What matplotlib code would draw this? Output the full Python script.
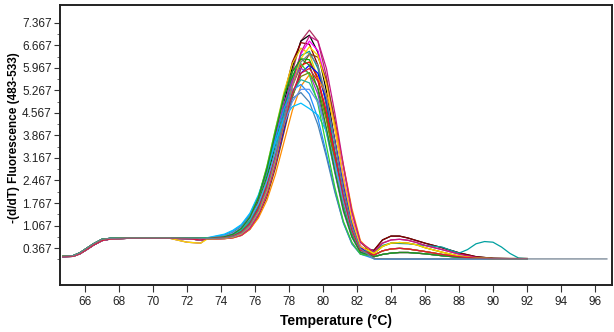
import matplotlib
matplotlib.use("Agg")
import matplotlib.pyplot as plt
import matplotlib.font_manager as fm
from matplotlib.ticker import FixedLocator

# ---------------- data ----------------
low_T = [64.7, 65.3, 65.7, 66.1, 66.5, 67.0, 67.5, 68.5, 70.0, 71.0, 72.0, 72.8]
low_a = [0.12, 0.13, 0.22, 0.36, 0.50, 0.64, 0.67, 0.68, 0.68, 0.68, 0.68, 0.67]
low_b = [0.10, 0.11, 0.19, 0.32, 0.46, 0.60, 0.65, 0.67, 0.67, 0.67, 0.66, 0.62]
low_c = [0.12, 0.12, 0.20, 0.34, 0.48, 0.62, 0.66, 0.67, 0.67, 0.67, 0.55, 0.52]

pk_T = [73.2, 74.2, 74.7, 75.2, 75.7, 76.2, 76.7, 77.2, 77.7, 78.2, 78.7,
        79.2, 79.7, 80.2, 80.7, 81.2, 81.7, 82.2]
c01 = [0.66, 0.68, 0.72, 0.82, 1.05, 1.50, 2.25, 3.30, 4.60, 5.85, 6.80, 7.14, 6.80, 5.70, 4.10, 2.50, 1.20, 0.40]
c02 = [0.66, 0.69, 0.74, 0.86, 1.15, 1.70, 2.50, 3.60, 4.85, 6.00, 6.80, 6.98, 6.45, 5.25, 3.70, 2.20, 1.05, 0.35]
c03 = [0.67, 0.70, 0.76, 0.92, 1.25, 1.85, 2.75, 3.90, 5.10, 6.15, 6.75, 6.70, 6.05, 4.80, 3.30, 1.90, 0.85, 0.25]
c04 = [0.65, 0.67, 0.70, 0.80, 1.05, 1.50, 2.20, 3.20, 4.40, 5.55, 6.40, 6.80, 6.50, 5.55, 4.10, 2.60, 1.30, 0.45]
c05 = [0.67, 0.71, 0.78, 0.96, 1.30, 1.95, 2.90, 4.05, 5.20, 6.10, 6.58, 6.40, 5.65, 4.40, 2.95, 1.65, 0.75, 0.25]
c06 = [0.66, 0.69, 0.74, 0.86, 1.15, 1.65, 2.40, 3.40, 4.55, 5.65, 6.35, 6.48, 5.95, 4.85, 3.40, 2.00, 0.95, 0.30]
c07 = [0.65, 0.66, 0.69, 0.76, 0.95, 1.35, 1.95, 2.85, 3.95, 5.05, 5.95, 6.40, 6.30, 5.60, 4.35, 2.90, 1.50, 0.55]
c08 = [0.67, 0.70, 0.76, 0.92, 1.22, 1.78, 2.60, 3.65, 4.75, 5.70, 6.25, 6.22, 5.60, 4.45, 3.05, 1.75, 0.80, 0.25]
c09 = [0.66, 0.69, 0.74, 0.85, 1.12, 1.60, 2.30, 3.25, 4.35, 5.40, 6.05, 6.15, 5.65, 4.60, 3.25, 1.90, 0.90, 0.30]
c10 = [0.65, 0.67, 0.70, 0.80, 1.05, 1.45, 2.10, 3.00, 4.05, 5.10, 5.80, 6.05, 5.80, 4.95, 3.70, 2.30, 1.10, 0.38]
c11 = [0.68, 0.72, 0.80, 0.99, 1.32, 1.90, 2.75, 3.80, 4.85, 5.60, 5.95, 5.80, 5.15, 4.00, 2.70, 1.50, 0.70, 0.22]
c12 = [0.66, 0.69, 0.74, 0.85, 1.10, 1.55, 2.25, 3.10, 4.15, 5.10, 5.70, 5.82, 5.35, 4.35, 3.10, 1.80, 0.85, 0.28]
c13 = [0.65, 0.66, 0.68, 0.76, 0.95, 1.30, 1.85, 2.65, 3.65, 4.65, 5.40, 5.75, 5.65, 5.15, 4.20, 2.95, 1.60, 0.60]
c14 = [0.68, 0.71, 0.77, 0.93, 1.22, 1.72, 2.45, 3.40, 4.40, 5.20, 5.60, 5.50, 4.95, 3.95, 2.75, 1.60, 0.75, 0.25]
c15 = [0.68, 0.78, 0.90, 1.08, 1.42, 1.98, 2.80, 3.78, 4.70, 5.28, 5.45, 5.15, 4.40, 3.30, 2.15, 1.15, 0.50, 0.18]
c16 = [0.67, 0.75, 0.86, 1.04, 1.38, 1.95, 2.72, 3.62, 4.45, 5.02, 5.20, 4.90, 4.20, 3.20, 2.10, 1.15, 0.50, 0.18]
c17 = [0.69, 0.80, 0.92, 1.10, 1.45, 2.02, 2.80, 3.65, 4.40, 4.76, 4.87, 4.70, 4.50, 4.00, 3.00, 1.90, 0.95, 0.30]
c18 = [0.65, 0.66, 0.69, 0.77, 0.98, 1.40, 2.05, 3.00, 4.20, 5.45, 6.45, 6.95, 6.80, 5.95, 4.55, 2.95, 1.50, 0.55]
c19 = [0.68, 0.72, 0.80, 0.98, 1.32, 1.95, 2.90, 4.05, 5.12, 5.86, 6.10, 5.75, 4.85, 3.55, 2.25, 1.20, 0.55, 0.18]
c20 = [0.68, 0.74, 0.82, 0.98, 1.28, 1.75, 2.45, 3.32, 4.20, 4.92, 5.30, 5.30, 4.90, 4.05, 2.95, 1.80, 0.90, 0.30]
c21 = [0.65, 0.67, 0.71, 0.81, 1.06, 1.48, 2.15, 3.10, 4.25, 5.40, 6.25, 6.62, 6.35, 5.45, 4.05, 2.55, 1.25, 0.42]
c22 = [0.67, 0.72, 0.80, 0.98, 1.32, 1.92, 2.82, 3.95, 5.05, 5.85, 6.25, 6.05, 5.30, 4.10, 2.75, 1.55, 0.72, 0.24]
c23 = [0.66, 0.69, 0.74, 0.86, 1.12, 1.58, 2.28, 3.20, 4.25, 5.20, 5.80, 5.95, 5.55, 4.60, 3.30, 1.95, 0.92, 0.30]
c24 = [0.66, 0.68, 0.72, 0.83, 1.08, 1.52, 2.20, 3.15, 4.30, 5.40, 6.15, 6.40, 6.05, 5.05, 3.65, 2.20, 1.05, 0.35]

tail_T = [83.0, 83.5, 84.0, 84.5, 85.0, 85.5, 86.0, 87.0, 88.0, 89.0, 90.0, 91.0, 92.0]
tail_dark = [0.30, 0.62, 0.74, 0.74, 0.68, 0.60, 0.52, 0.38, 0.22, 0.10, 0.05, 0.04, 0.04]
tail_pink = [0.25, 0.52, 0.62, 0.64, 0.61, 0.54, 0.45, 0.32, 0.18, 0.08, 0.04, 0.04, 0.04]
tail_yell = [0.20, 0.42, 0.52, 0.54, 0.52, 0.47, 0.38, 0.24, 0.12, 0.06, 0.04, 0.04, 0.04]
tail_mid = [0.15, 0.28, 0.34, 0.36, 0.34, 0.30, 0.26, 0.17, 0.10, 0.05, 0.04, 0.04, 0.04]
tail_low = [0.10, 0.17, 0.21, 0.23, 0.23, 0.21, 0.19, 0.13, 0.08, 0.05, 0.04, 0.04, 0.04]
tail_flat = [0.04, 0.03, 0.03, 0.03, 0.03, 0.03, 0.03, 0.03, 0.03, 0.03, 0.03, 0.03, 0.03]
tealT = [83.0, 83.5, 84.0, 85.0, 86.0, 87.0, 87.5, 88.0, 88.5, 89.0, 89.5, 90.0, 90.5, 91.0, 91.5, 92.0]
tealV = [0.25, 0.45, 0.52, 0.50, 0.45, 0.40, 0.30, 0.21, 0.32, 0.50, 0.57, 0.55, 0.40, 0.20, 0.06, 0.04]
longT = [83.0, 84.0, 86.0, 88.0, 90.0, 92.0, 96.7]
longV = [0.04, 0.03, 0.03, 0.03, 0.03, 0.03, 0.03]

peaks = [c01, c02, c03, c04, c05, c06, c07, c08, c09, c10, c11, c12,
         c13, c14, c15, c16, c17, c18, c19, c20, c21, c22, c23, c24]
colors = ['#b03060', '#000000', '#8b0000', '#ff00ff', '#e8c800', '#00a0a0',
          '#8b4513', '#00b000', '#ff0000', '#0000ff', '#9932cc', '#808000',
          '#ff8c00', '#20b2aa', '#1e90ff', '#4682b4', '#00bfff', '#c71585',
          '#32cd32', '#6495ed', '#ffd700', '#228b22', '#dc143c', '#708090']
lows = [low_a, low_b, low_a, low_b, low_c, low_a, low_b, low_a, low_b, low_a, low_c, low_b,
        low_a, low_b, low_a, low_b, low_a, low_b, low_a, low_b, low_c, low_a, low_b, low_a]
tails = ['pink', 'dark', 'dark', 'flat', 'yell', 'teal', 'mid', 'mid', 'low', 'flat', 'low', 'yell',
         'mid', 'flat', 'flat', 'low', 'flat', 'pink', 'low', 'flat', 'yell', 'low', 'mid', 'long']

y_ticks = [0.367, 1.067, 1.767, 2.467, 3.167, 3.867, 4.567, 5.267, 5.967, 6.667, 7.367]
x_ticks = list(range(66, 97, 2))

# ---------------- fonts ----------------
names = {f.name for f in fm.fontManager.ttflist}
narrow = 'Liberation Sans Narrow' if 'Liberation Sans Narrow' in names else 'Liberation Sans'

# ---------------- plot ----------------
fig = plt.figure(figsize=(6.14, 3.32), dpi=100)
ax = fig.add_axes([60 / 614, 47 / 332, 552 / 614, 280 / 332])

tail_map = {'dark': (tail_T, tail_dark), 'pink': (tail_T, tail_pink), 'yell': (tail_T, tail_yell),
            'mid': (tail_T, tail_mid), 'low': (tail_T, tail_low), 'flat': (tail_T, tail_flat),
            'teal': (tealT, tealV), 'long': (longT, longV)}

for pk, col, lo, tname in zip(peaks, colors, lows, tails):
    tT, tV = tail_map[tname]
    ax.plot(low_T + pk_T + tT, lo + pk + tV, color=col, lw=0.9, solid_joinstyle='round')

ax.set_xlim(64.53, 97.0)
ax.set_ylim(-0.78, 7.92)
ax.yaxis.set_major_locator(FixedLocator(y_ticks))
ax.yaxis.set_minor_locator(FixedLocator([v - 0.35 for v in y_ticks]))
ax.xaxis.set_major_locator(FixedLocator(x_ticks))
ax.set_yticklabels([f'{v:.3f}' for v in y_ticks])
ax.set_xticklabels([str(v) for v in x_ticks])

for lab in ax.get_xticklabels() + ax.get_yticklabels():
    lab.set_fontfamily(narrow)
    lab.set_fontsize(8.5)
    lab.set_color('#222222')

ax.tick_params(axis='both', which='major', direction='out', length=4, width=0.8, color='#333333', pad=2)
ax.tick_params(axis='x', which='major', length=5, pad=3)
ax.tick_params(axis='y', which='minor', direction='out', length=2, width=0.6, color='#555555')

for s in ax.spines.values():
    s.set_linewidth(1.4)
    s.set_color('#222222')

ax.set_xlabel('Temperature (\u00b0C)', fontfamily=narrow, fontweight='bold', fontsize=10, labelpad=4)
ax.set_ylabel('-(d/dT) Fluorescence (483-533)', fontfamily='Liberation Sans', fontweight='bold', fontsize=8.5)
ax.yaxis.set_label_coords(-0.072, 0.525)

fig.savefig('out.png', dpi=100, facecolor='white')
